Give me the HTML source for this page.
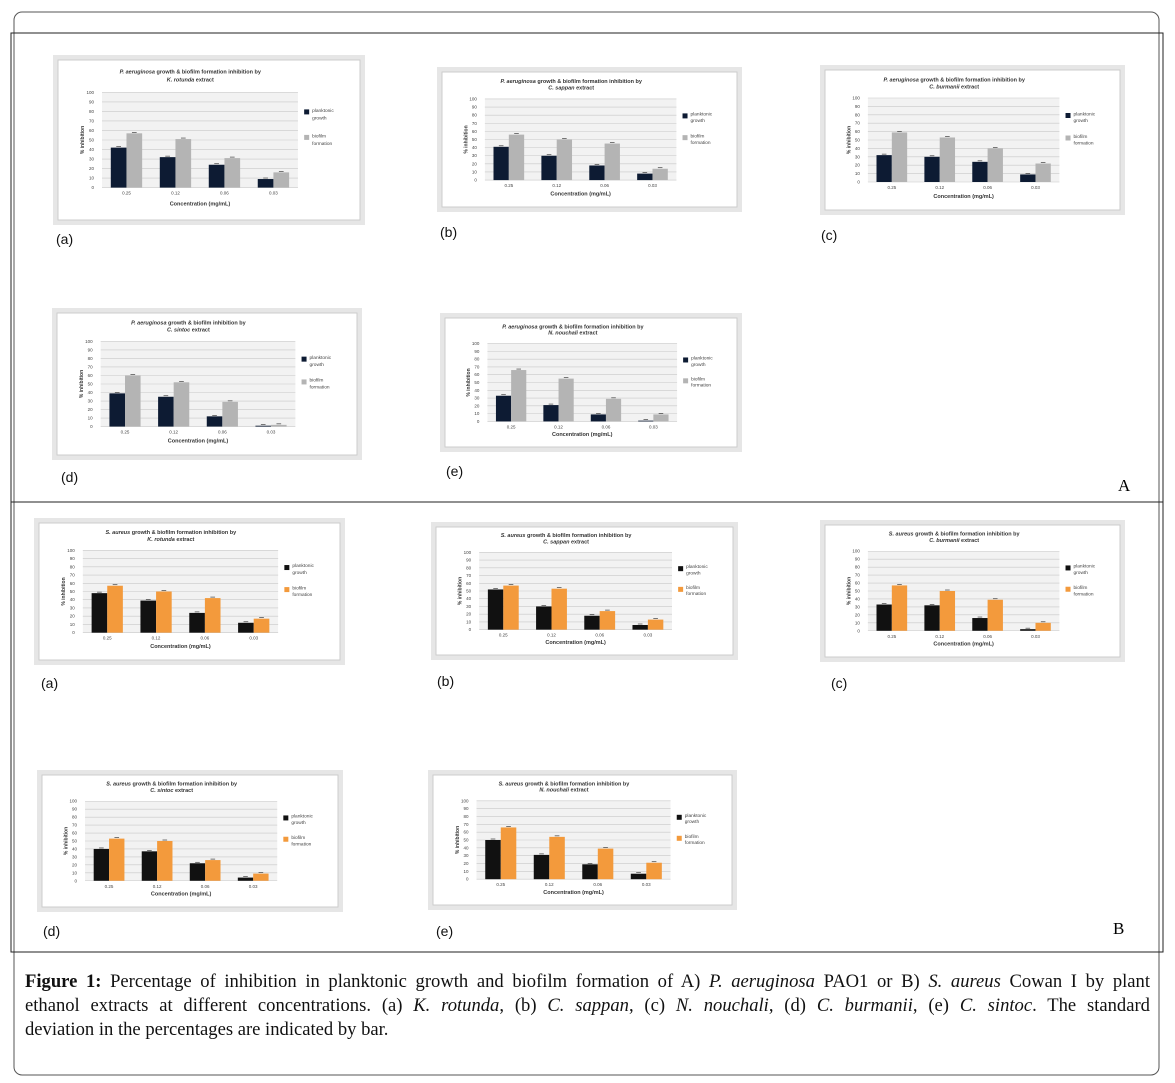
<!DOCTYPE html>
<html><head><meta charset="utf-8"><style>
body{margin:0;background:#fff;width:1175px;height:1083px;overflow:hidden;position:relative;font-family:"Liberation Sans",sans-serif}
#cap{position:absolute;left:25px;top:970px;width:1125px;font-family:"Liberation Serif",serif;font-size:18.6px;line-height:24px;color:#111;white-space:nowrap}
#cap .j{text-align:justify;text-align-last:justify}
</style></head><body>
<svg id="fig" width="1175" height="1083" style="position:absolute;left:0;top:0">
<rect x="14" y="12" width="1145" height="1063" rx="8" fill="none" stroke="#555" stroke-width="1"/>
<rect x="11" y="33" width="1152" height="919" fill="none" stroke="#222" stroke-width="1"/>
<line x1="11" y1="502" x2="1163" y2="502" stroke="#222"/>
<text x="1118" y="491" font-family="Liberation Serif" font-size="17">A</text>
<text x="1113" y="934" font-family="Liberation Serif" font-size="17">B</text>
</svg>
<div id="cap">
<div class="j"><b>Figure 1:</b> Percentage of inhibition in planktonic growth and biofilm formation of A) <i>P. aeruginosa</i> PAO1 or B) <i>S. aureus</i> Cowan I by plant</div>
<div class="j">ethanol extracts at different concentrations. (a) <i>K. rotunda</i>, (b) <i>C. sappan</i>, (c) <i>N. nouchali</i>, (d) <i>C. burmanii</i>, (e) <i>C. sintoc</i>. The standard</div>
<div>deviation in the percentages are indicated by bar.</div>
</div>
<script>
const categories=["0.25","0.12","0.06","0.03"];
const yTicks=[0,10,20,30,40,50,60,70,80,90,100];
const pA_a_plank=[42,32,24,9], pA_a_bio=[57,51,31,16];
const pA_b_plank=[41,30,18,8], pA_b_bio=[56,50,45,14];
const pA_c_plank=[32,30,24,9], pA_c_bio=[59,53,40,22];
const pA_d_plank=[39,35,12,1], pA_d_bio=[60,52,29,2];
const pA_e_plank=[33,21,9,1], pA_e_bio=[66,55,29,9];
const pB_a_plank=[48,39,24,12], pB_a_bio=[57,50,42,17];
const pB_b_plank=[52,30,18,6], pB_b_bio=[57,53,24,13];
const pB_c_plank=[33,32,16,2], pB_c_bio=[57,50,39,10];
const pB_d_plank=[40,37,22,4], pB_d_bio=[53,50,26,9];
const pB_e_plank=[50,31,19,7], pB_e_bio=[66,54,39,21];
const NS="http://www.w3.org/2000/svg";
const svg=document.getElementById('fig');
function mk(t,a,p){const e=document.createElementNS(NS,t);for(const k in a)e.setAttribute(k,a[k]);(p||svg).appendChild(e);return e;}
const charts=[
 {x:53,y:55,w:312,h:170,lx:56,ly:244,lab:"(a)",org:"P. aeruginosa",t:" growth & biofilm formation inhibition by",ex:"K. rotunda",p:pA_a_plank,b:pA_a_bio,c1:"#0d1b33",c2:"#b4b4b4"},
 {x:437,y:67,w:305,h:145,lx:440,ly:237,lab:"(b)",org:"P. aeruginosa",t:" growth & biofilm formation inhibition by",ex:"C. sappan",p:pA_b_plank,b:pA_b_bio,c1:"#0d1b33",c2:"#b4b4b4"},
 {x:820,y:65,w:305,h:150,lx:821,ly:240,lab:"(c)",org:"P. aeruginosa",t:" growth & biofilm formation inhibition by",ex:"C. burmanii",p:pA_c_plank,b:pA_c_bio,c1:"#0d1b33",c2:"#b4b4b4"},
 {x:52,y:308,w:310,h:152,lx:61,ly:482,lab:"(d)",org:"P. aeruginosa",t:" growth & biofilm inhibition by",ex:"C. sintoc",p:pA_d_plank,b:pA_d_bio,c1:"#0d1b33",c2:"#b4b4b4"},
 {x:440,y:313,w:302,h:139,lx:446,ly:476,lab:"(e)",org:"P. aeruginosa",t:" growth & biofilm formation inhibition by",ex:"N. nouchali",p:pA_e_plank,b:pA_e_bio,c1:"#0d1b33",c2:"#b4b4b4"},
 {x:34,y:518,w:311,h:147,lx:41,ly:688,lab:"(a)",org:"S. aureus",t:" growth & biofilm formation inhibition by",ex:"K. rotunda",p:pB_a_plank,b:pB_a_bio,c1:"#111",c2:"#f39a3c"},
 {x:431,y:522,w:307,h:138,lx:437,ly:686,lab:"(b)",org:"S. aureus",t:" growth & biofilm formation inhibition by",ex:"C. sappan",p:pB_b_plank,b:pB_b_bio,c1:"#111",c2:"#f39a3c"},
 {x:820,y:520,w:305,h:142,lx:831,ly:688,lab:"(c)",org:"S. aureus",t:" growth & biofilm formation inhibition by",ex:"C. burmanii",p:pB_c_plank,b:pB_c_bio,c1:"#111",c2:"#f39a3c"},
 {x:37,y:770,w:306,h:142,lx:43,ly:936,lab:"(d)",org:"S. aureus",t:" growth & biofilm formation inhibition by",ex:"C. sintoc",p:pB_d_plank,b:pB_d_bio,c1:"#111",c2:"#f39a3c"},
 {x:428,y:770,w:309,h:140,lx:436,ly:936,lab:"(e)",org:"S. aureus",t:" growth & biofilm formation inhibition by",ex:"N. nouchali",p:pB_e_plank,b:pB_e_bio,c1:"#111",c2:"#f39a3c"}
];
charts.forEach((c,i)=>{
 const g=mk('g',{});
 
 
 mk('rect',{x:c.x,y:c.y,width:c.w,height:c.h,fill:'#e6e6e6'},g);
 mk('rect',{x:c.x+5,y:c.y+5,width:c.w-10,height:c.h-10,fill:'#fff',stroke:'#ccc'},g);
 const t=mk('text',{x:c.x+c.w*0.44,y:c.y+c.h*0.11,'font-size':5.5,'font-weight':'bold','text-anchor':'middle',fill:'#333'},g);
 t.innerHTML='<tspan font-style="italic">'+c.org+'</tspan>'+c.t;
 const t2=mk('text',{x:c.x+c.w*0.44,y:c.y+c.h*0.155,'font-size':5.5,'font-weight':'bold','text-anchor':'middle',fill:'#333'},g);
 t2.innerHTML='<tspan font-style="italic">'+c.ex+'</tspan> extract';
 const L=c.x+c.w*0.157,R=c.x+c.w*0.785,T=c.y+c.h*0.22,B=c.y+c.h*0.78;
 const ys=v=>B-(v/100)*(B-T);
 mk('rect',{x:L,y:T,width:R-L,height:B-T,fill:'#f2f2f2'},g);
 yTicks.forEach(v=>{
  mk('line',{x1:L,x2:R,y1:ys(v),y2:ys(v),stroke:'#c8c8c8','stroke-width':0.6},g);
  const tx=mk('text',{x:L-8,y:ys(v)+1.5,'font-size':4.5,'text-anchor':'end',fill:'#444'},g);tx.textContent=v;
 });
 const bw=(R-L)/categories.length;
 categories.forEach((cat,k)=>{
  const cx=L+bw*(k+0.5),w=bw*0.32;
  [[c.p,c.c1,-1],[c.b,c.c2,0]].forEach(([arr,col,o])=>{
   const bx=cx+o*w, by=ys(arr[k]);
   const r=mk('rect',{x:bx,y:by,width:w,height:B-by,fill:col},g);
   
   
   mk('line',{x1:bx+w*0.35,x2:bx+w*0.65,y1:by-1,y2:by-1,stroke:'#222','stroke-width':0.6},g);
  });
  const tx=mk('text',{x:cx,y:B+7,'font-size':4.5,'text-anchor':'middle',fill:'#444'},g);tx.textContent=cat;
 });
 const xl=mk('text',{x:(L+R)/2,y:B+c.h*0.105,'font-size':5.5,'font-weight':'bold','text-anchor':'middle',fill:'#333'},g);xl.textContent='Concentration (mg/mL)';
 const yx=c.x+c.w*0.1,yy=(T+B)/2;
 const yl=mk('text',{x:yx,y:yy,'font-size':5,'font-weight':'bold','text-anchor':'middle',fill:'#333',transform:`rotate(-90 ${yx} ${yy})`},g);yl.textContent='% inhibition';
 const gx=c.x+c.w*0.805;
 mk('rect',{x:gx,y:T+c.h*0.1,width:5,height:5,fill:c.c1},g);
 mk('rect',{x:gx,y:T+c.h*0.25,width:5,height:5,fill:c.c2},g);
 [['planktonic',T+c.h*0.115],['growth',T+c.h*0.16],['biofilm',T+c.h*0.265],['formation',T+c.h*0.31]].forEach(([s,y])=>{
  const e=mk('text',{x:gx+8,y:y,'font-size':4.8,fill:'#444'},g);e.textContent=s;
 });
 const lb=mk('text',{x:c.lx,y:c.ly,'font-size':14,fill:'#111'},g);lb.textContent=c.lab;
});
</script>
</body></html>
